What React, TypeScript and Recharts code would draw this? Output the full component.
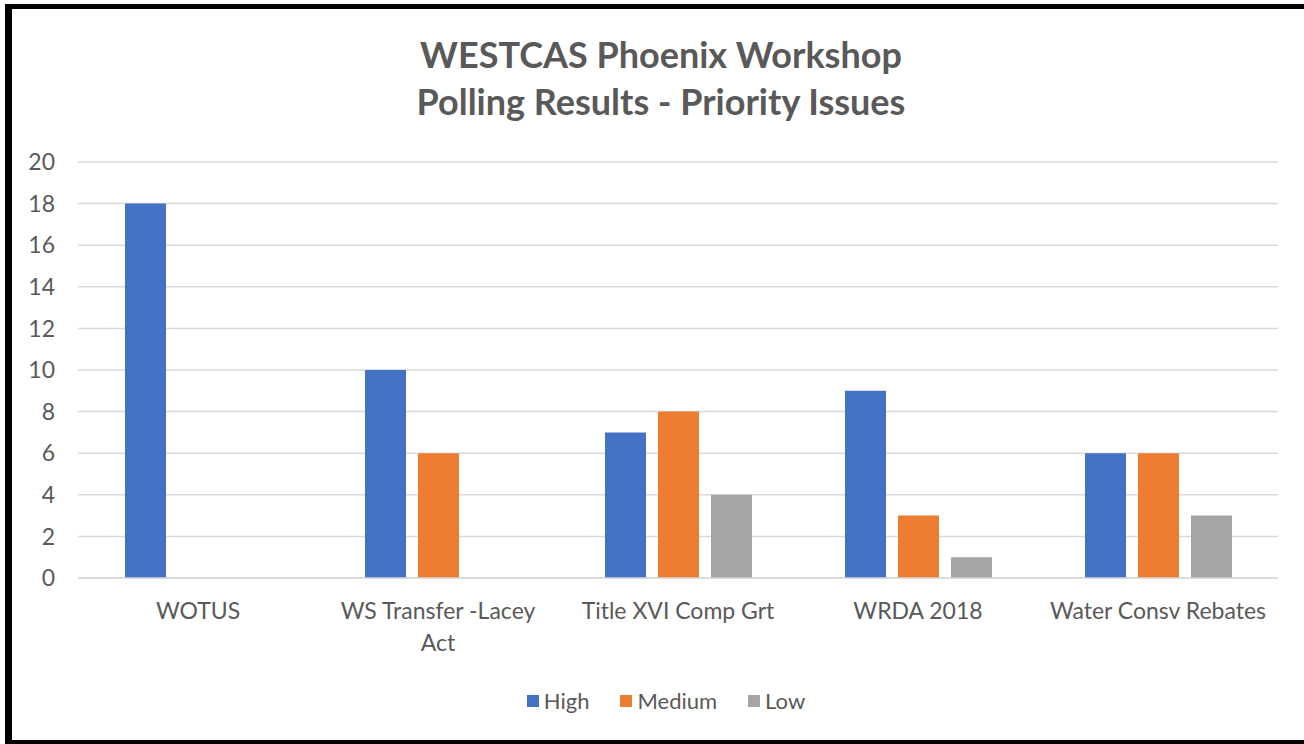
import React from "react";
import { BarChart, Bar, XAxis, YAxis, CartesianGrid } from "recharts";

const categories = ["WOTUS", "WS Transfer -Lacey Act", "Title XVI Comp Grt", "WRDA 2018", "Water Consv Rebates"];
const highValues = [18, 10, 7, 9, 6];
const mediumValues = [0, 6, 8, 3, 6];
const lowValues = [0, 0, 4, 1, 3];
const yTicks = [0, 2, 4, 6, 8, 10, 12, 14, 16, 18, 20];
const titleLines = ["WESTCAS Phoenix Workshop", "Polling Results - Priority Issues"];
const seriesNames = ["High", "Medium", "Low"];
const seriesColors = ["#4472C4", "#ED7D31", "#A5A5A5"];

const data = categories.map((c, i) => ({
  name: c,
  High: highValues[i],
  Medium: mediumValues[i],
  Low: lowValues[i],
}));

const FONT = "Lato, 'Open Sans', sans-serif";
const TEXT = "#595959";

function wrap(label: string, maxChars: number): string[] {
  const words = label.split(" ");
  const lines: string[] = [];
  let cur = "";
  for (const w of words) {
    const next = cur ? cur + " " + w : w;
    if (next.length > maxChars && cur) {
      lines.push(cur);
      cur = w;
    } else cur = next;
  }
  if (cur) lines.push(cur);
  return lines;
}

const XTick = (props: any) => {
  const { x, payload } = props;
  const lines = wrap(payload.value, 20);
  return (
    <text x={x} y={578} textAnchor="middle" fill={TEXT} fontSize={23} fontFamily={FONT}>
      {lines.map((l, i) => (
        <tspan key={i} x={x} dy={i === 0 ? 41 : 32}>
          {l}
        </tspan>
      ))}
    </text>
  );
};

export default function App() {
  return (
    <div
      style={{
        position: "absolute",
        left: 0,
        top: 0,
        width: 1304,
        height: 744,
        overflow: "hidden",
        background: "#fff",
      }}
    >
      <div
        style={{
          position: "absolute",
          left: 5,
          top: 4,
          width: 1330,
          height: 740,
          boxSizing: "border-box",
          borderLeft: "7px solid #000",
          borderTop: "5px solid #000",
          borderBottom: "4px solid #000",
        }}
      />
      <div
        style={{
          position: "absolute",
          left: 12,
          top: 31,
          width: 1298,
          textAlign: "center",
          fontFamily: FONT,
          fontWeight: 700,
          fontSize: 36,
          lineHeight: "47px",
          color: TEXT,
        }}
      >
        {titleLines.map((t, i) => (
          <div key={i}>{t}</div>
        ))}
      </div>
      <div style={{ position: "absolute", left: 0, top: 0 }}>
        <BarChart
          width={1304}
          height={744}
          data={data}
          margin={{ top: 162, right: 26, bottom: 0, left: 0 }}
          barGap={12}
          barSize={41}
        >
          <CartesianGrid vertical={false} stroke="#D9D9D9" strokeWidth={1.5} />
          <XAxis
            dataKey="name"
            axisLine={{ stroke: "#D9D9D9", strokeWidth: 1.5 }}
            tickLine={false}
            tick={<XTick />}
            interval={0}
            height={166}
          />
          <YAxis
            width={78}
            domain={[0, 20]}
            ticks={yTicks}
            axisLine={false}
            tickLine={false}
            tickSize={0}
            tickMargin={23}
            tick={{ fill: TEXT, fontSize: 23, fontFamily: FONT }}
            interval={0}
          />
          {seriesNames.map((s, i) => (
            <Bar key={s} dataKey={s} fill={seriesColors[i]} isAnimationActive={false} />
          ))}
        </BarChart>
      </div>
      <div
        style={{
          position: "absolute",
          left: 0,
          top: 686,
          width: 1332,
          display: "flex",
          justifyContent: "center",
          fontFamily: FONT,
          fontSize: 22,
          color: TEXT,
          lineHeight: "30px",
        }}
      >
        {seriesNames.map((s, i) => (
          <div key={s} style={{ display: "flex", alignItems: "center", marginRight: i < 2 ? 31 : 0 }}>
            <span
              style={{
                display: "inline-block",
                width: 12,
                height: 12,
                background: seriesColors[i],
                marginRight: 5,
              }}
            />
            <span>{s}</span>
          </div>
        ))}
      </div>
    </div>
  );
}
